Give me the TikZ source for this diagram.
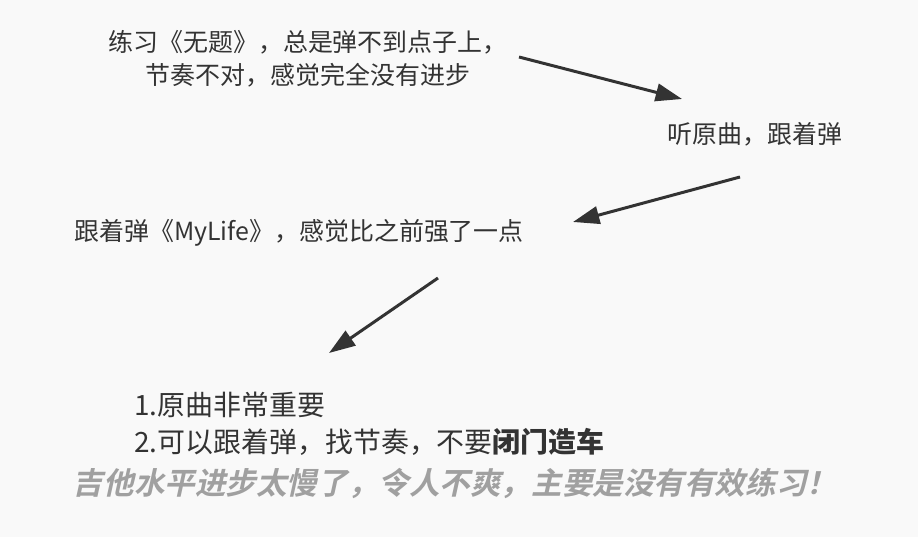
\documentclass[tikz,border=0pt]{standalone}
\usepackage{fontspec}
\setmainfont{Noto Sans CJK SC}
\newfontfamily\sumfont{Noto Sans CJK SC}[BoldFont=* Bold, BoldFeatures={FakeSlant=0.22}]
\usetikzlibrary{arrows.meta}
\definecolor{ink}{HTML}{333333}
\definecolor{dim}{HTML}{A0A0A0}
\definecolor{paper}{HTML}{F9F9F9}
\tikzset{
	note/.style = {inner sep=0pt, text=ink, font=\fontsize{14.2pt}{18.7pt}\selectfont},
	hop/.style = {line width=1.7pt, draw=ink, -{Triangle[length=15pt, width=10pt]}}
}
\begin{document}
\begin{tikzpicture} [x=0.02cm, y=-0.02cm]
	\fill [paper] (0,0) rectangle (918,537);
	\useasboundingbox (0,0) rectangle (918,537);
	\node [note, align=center] (wuti) at (308,58.5) {练习《无题》，总是弹不到点子上，\\节奏不对，感觉完全没有进步};
	\node [note] (yuanqu) at (755,134) {听原曲，跟着弹};
	\node [note] (mylife) at (299,233) {跟着弹《MyLife》，感觉比之前强了一点};
	\node [note, anchor=west, align=left, font=\fontsize{15.9pt}{21pt}\selectfont] (lesson) at (134,423.5) {1.原曲非常重要\\2.可以跟着弹，找节奏，不要\textbf{闭门造车}};
	\node [note, text=dim, font=\fontsize{17.4pt}{20pt}\sumfont\bfseries] (sum) at (455,483) {吉他水平进步太慢了，令人不爽，主要是没有有效练习！};
	%arrows
	\coordinate (a1) at (519,57);
	\coordinate (b1) at (682,99);
	\coordinate (a2) at (740,177);
	\coordinate (b2) at (573,222);
	\coordinate (a3) at (438,278);
	\coordinate (b3) at (329,353);
	\draw [hop] (a1) -- (b1);
	\draw [hop] (a2) -- (b2);
	\draw [hop] (a3) -- (b3);
\end{tikzpicture}
\end{document}
